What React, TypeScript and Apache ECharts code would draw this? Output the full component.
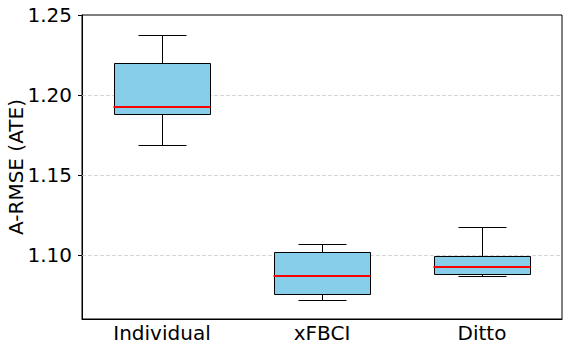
import React, { useEffect, useRef } from "react";
import * as echarts from "echarts";

const categories = ["Individual", "xFBCI", "Ditto"];
// [low whisker, q1, median, q3, high whisker]
const lowWhisker = [1.1686, 1.0717, 1.0867];
const q1 = [1.1879, 1.0754, 1.0879];
const median = [1.1927, 1.0871, 1.0927];
const q3 = [1.2198, 1.1017, 1.0992];
const highWhisker = [1.2373, 1.1067, 1.1175];
const yTicks = [1.1, 1.15, 1.2, 1.25];
const gridValues = [1.1, 1.15, 1.2];

const FONT = "DejaVu Sans";

export default function App() {
  const ref = useRef<HTMLDivElement>(null);
  useEffect(() => {
    if (!ref.current) return;
    document.body.style.margin = "0";
    const chart = echarts.init(ref.current, undefined, { renderer: "svg" });
    const data = categories.map((_, i) => [i, lowWhisker[i], q1[i], median[i], q3[i], highWhisker[i]]);
    chart.setOption({
      animation: false,
      grid: {
        left: 82,
        right: 6,
        top: 15,
        bottom: 33,
        containLabel: false,
        outerBoundsMode: "none",
        show: true,
        borderColor: "#000",
        borderWidth: 1,
        backgroundColor: "#fff",
      },
      xAxis: {
        type: "category",
        data: categories,
        boundaryGap: true,
        axisLine: { lineStyle: { color: "#000", width: 1 } },
        axisTick: { alignWithLabel: true, length: 4, lineStyle: { color: "#000" } },
        axisLabel: { fontSize: 20, color: "#000", fontFamily: FONT, margin: 4 },
        splitLine: { show: false },
      },
      yAxis: {
        type: "value",
        min: 1.06,
        max: 1.25,
        name: "A-RMSE (ATE)",
        nameLocation: "middle",
        nameRotate: 90,
        nameGap: 56,
        nameMoveOverlap: false,
        nameTextStyle: { fontSize: 20, color: "#000", fontFamily: FONT },
        axisLine: { show: true, lineStyle: { color: "#000", width: 1 } },
        axisTick: { show: true, length: 4, customValues: yTicks, lineStyle: { color: "#000" } },
        axisLabel: {
          fontSize: 20,
          color: "#000",
          fontFamily: FONT,
          margin: 10,
          customValues: yTicks,
          formatter: (v: number) => v.toFixed(2),
        },
        splitLine: { show: false },
      },
      series: [
        {
          type: "line",
          data: [],
          z: 1,
          markLine: {
            z: 1,
            silent: true,
            symbol: "none",
            label: { show: false },
            lineStyle: { type: [4, 2], color: "#cccccc", width: 0.8 },
            data: gridValues.map((v) => ({ yAxis: v })),
          },
        },
        {
          type: "custom",
          z: 3,
          encode: { x: 0, y: [1, 2, 3, 4, 5] },
          data,
          renderItem: (params: any, api: any) => {
            const x = api.value(0);
            const pLow = api.coord([x, api.value(1)]);
            const pQ1 = api.coord([x, api.value(2)]);
            const pMed = api.coord([x, api.value(3)]);
            const pQ3 = api.coord([x, api.value(4)]);
            const pHigh = api.coord([x, api.value(5)]);
            const cx = Math.round(pMed[0]) + 0.5;
            const halfW = 48;
            const capHalf = 24;
            const black = { stroke: "#000", lineWidth: 1 };
            const r = (v: number) => Math.round(v) + 0.5;
            return {
              type: "group",
              children: [
                { type: "line", shape: { x1: cx, y1: r(pQ3[1]), x2: cx, y2: r(pHigh[1]) }, style: black },
                { type: "line", shape: { x1: cx, y1: r(pQ1[1]), x2: cx, y2: r(pLow[1]) }, style: black },
                { type: "line", shape: { x1: cx - capHalf, y1: r(pHigh[1]), x2: cx + capHalf, y2: r(pHigh[1]) }, style: black },
                { type: "line", shape: { x1: cx - capHalf, y1: r(pLow[1]), x2: cx + capHalf, y2: r(pLow[1]) }, style: black },
                {
                  type: "rect",
                  shape: { x: cx - halfW, y: r(pQ3[1]), width: 2 * halfW, height: r(pQ1[1]) - r(pQ3[1]) },
                  style: { fill: "#87CEEB", stroke: "#000", lineWidth: 1 },
                },
                {
                  type: "line",
                  shape: { x1: cx - halfW - 1, y1: Math.round(pMed[1]), x2: cx + halfW, y2: Math.round(pMed[1]) },
                  style: { stroke: "#ff0000", lineWidth: 2 },
                },
              ],
            };
          },
        },
      ],
    });
    return () => chart.dispose();
  }, []);
  return <div ref={ref} style={{ width: 568, height: 352 }} />;
}
